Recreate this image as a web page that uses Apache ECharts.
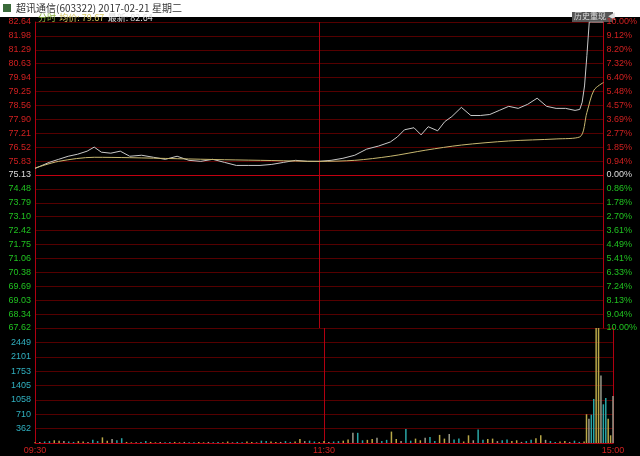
<!DOCTYPE html>
<html><head><meta charset="utf-8">
<script src="https://cdn.jsdelivr.net/npm/echarts@6/dist/echarts.min.js"></script>
<style>html,body{margin:0;padding:0;background:#000}#c{width:640px;height:456px}</style>
</head><body><div id="c"></div>
<script>
const priceLabels=['67.62','68.34','69.03','69.69','70.38','71.06','71.75','72.42','73.10','73.79','74.48','75.13','75.83','76.52','77.21','77.90','78.56','79.25','79.94','80.63','81.29','81.98','82.64'];
const pctLabels=['10.00%','9.04%','8.13%','7.24%','6.33%','5.41%','4.49%','3.61%','2.70%','1.78%','0.86%','0.00%','0.94%','1.85%','2.77%','3.69%','4.57%','5.48%','6.40%','7.32%','8.20%','9.12%','10.00%'];
const volLabels=['','362','710','1058','1405','1753','2101','2449',''];
const timeLabels={0:'09:30',120:'11:30',240:'15:00'};
const priceMin=67.62, priceMax=82.64, prevClose=75.13, volMin=14, volMax=2797;
const priceMinutes=[0,3,6,10,14,18,22,25,28,32,36,40,45,50,55,60,65,70,75,80,85,90,95,100,105,110,115,120,125,130,135,140,145,150,153,156,160,163,166,170,173,176,180,184,188,192,196,200,204,208,212,216,220,224,228,230,231,232,233,234,235,236,240];
const prices=[75.45,75.6,75.75,75.9,76.05,76.15,76.3,76.5,76.25,76.2,76.3,76.05,76.1,76.0,75.9,76.05,75.85,75.8,75.9,75.75,75.6,75.6,75.6,75.65,75.75,75.85,75.8,75.8,75.85,75.95,76.1,76.4,76.55,76.75,77.0,77.35,77.45,77.1,77.5,77.3,77.75,78.0,78.45,78.05,78.05,78.1,78.3,78.5,78.4,78.6,78.9,78.5,78.4,78.4,78.3,78.35,78.7,79.5,81.0,82.64,82.64,82.64,82.64];
const avgMinutes=[0,10,25,40,60,80,100,120,135,150,165,180,200,220,230,233,236,240];
const avgPrices=[75.47,75.8,76.0,75.98,75.93,75.88,75.84,75.8,75.85,76.05,76.35,76.6,76.8,76.9,77.0,78.2,79.3,79.67];
const volMinutesEarly=[];for(let m=0;m<=228;m+=2)volMinutesEarly.push(m);
const volMinutesLate=[229,230,231,232,233,234,235,236,237,238,239,240];
const volMinutes=volMinutesEarly.concat(volMinutesLate);
const volumes=[30,40,50,60,80,70,60,50,40,60,50,40,90,60,150,70,110,80,130,40,30,30,40,60,40,30,40,30,40,40,30,40,30,30,40,30,40,30,40,30,50,30,40,30,50,40,30,70,60,50,40,40,60,40,50,110,60,70,50,40,60,
 40,50,60,70,100,260,260,80,90,110,140,60,90,290,110,60,350,70,120,80,140,160,60,210,120,230,100,120,50,200,80,340,90,110,120,60,80,100,60,80,40,60,90,130,200,90,60,40,50,60,40,70,40,50,
 710,600,700,1080,2797,2797,1650,950,1100,600,200,1150];
const volColors=['#b8a848','#2aa6a6','#9a9a8a','#b8a848','#2aa6a6'];
const chart=echarts.init(document.getElementById('c'));
const gridLine={show:true,lineStyle:{color:'#550000',width:1}};
chart.setOption({
 backgroundColor:'#000',animation:false,
 graphic:[
  {type:'rect',shape:{x:0,y:0,width:640,height:17},style:{fill:'#fff'}},
  {type:'rect',shape:{x:3,y:4,width:8,height:8},style:{fill:'#3a6a3a'}},
  {type:'text',x:16,y:3,style:{text:'超讯通信(603322) 2017-02-21 星期二',fill:'#333',font:'10px "Noto Sans CJK SC"'}},
  {type:'text',x:38,y:12,style:{rich:{a:{fill:'#8ab040',font:'9px "Noto Sans CJK SC"'},b:{fill:'#d8c860',font:'9px "Noto Sans CJK SC"'},c:{fill:'#ddd',font:'9px "Noto Sans CJK SC"'}},text:'{a|分时} {b|均价: 79.67} {c|最新: 82.64}'}},
  {type:'rect',shape:{x:572,y:12,width:41,height:10},style:{fill:'#555'}},
  {type:'text',x:574,y:12,style:{text:'历史重现 ◀',fill:'#ddd',font:'8px "Noto Sans CJK SC"'}}
 ],
 grid:[{left:35,right:27,top:22,height:306},{left:35,right:27,top:328,height:115}],
 xAxis:[
  {gridIndex:0,type:'value',min:0,max:240,interval:120,axisLabel:{show:false},axisTick:{show:false},axisLine:{show:false},splitLine:{show:true,lineStyle:{color:'#b00010'}}},
  {gridIndex:1,type:'value',min:0,max:240,interval:120,axisTick:{show:false},axisLine:{show:true,lineStyle:{color:'#b00010'}},splitLine:{show:true,lineStyle:{color:'#b00010'}},
   axisLabel:{color:'#d02020',fontSize:9,margin:3,formatter:v=>timeLabels[v]||''}}
 ],
 yAxis:[
  {gridIndex:0,type:'value',min:priceMin,max:priceMax,show:false},
  {gridIndex:0,type:'value',min:0,max:22,interval:1,position:'left',axisLine:{show:true,lineStyle:{color:'#b00010'}},axisTick:{show:false},splitLine:gridLine,
   axisLabel:{fontSize:9,margin:4,color:(v)=>(+v)>11?'#d02020':((+v)<11?'#20c020':'#ddd'),formatter:v=>priceLabels[v]}},
  {gridIndex:0,type:'value',min:0,max:22,interval:1,position:'right',axisLine:{show:true,lineStyle:{color:'#b00010'}},axisTick:{show:false},splitLine:{show:false},
   axisLabel:{fontSize:9,margin:3,color:(v)=>(+v)>11?'#d02020':((+v)<11?'#20c020':'#ddd'),formatter:v=>pctLabels[v]}},
  {gridIndex:1,type:'value',min:volMin,max:volMax,show:false},
  {gridIndex:1,type:'value',min:0,max:8,interval:1,position:'left',axisLine:{show:true,lineStyle:{color:'#b00010'}},axisTick:{show:false},splitLine:gridLine,
   axisLabel:{fontSize:9,margin:4,color:'#30b0c0',formatter:v=>volLabels[v]}},
  {gridIndex:1,type:'value',min:0,max:8,interval:1,position:'right',axisLine:{show:true,lineStyle:{color:'#b00010'}},axisTick:{show:false},splitLine:{show:false},axisLabel:{show:false}}
 ],
 series:[
  {type:'line',xAxisIndex:0,yAxisIndex:0,data:priceMinutes.map((m,i)=>[m,prices[i]]),symbol:'none',lineStyle:{color:'#c8c8c8',width:1},
   markLine:{silent:true,symbol:'none',label:{show:false},lineStyle:{color:'#c00010',type:'solid',width:1},data:[{yAxis:prevClose}]}},
  {type:'line',xAxisIndex:0,yAxisIndex:0,data:avgMinutes.map((m,i)=>[m,avgPrices[i]]),symbol:'none',smooth:0.3,lineStyle:{color:'#c8b870',width:1}},
  {type:'bar',xAxisIndex:1,yAxisIndex:3,barWidth:1.5,data:volMinutes.map((m,i)=>[m,volumes[i]]),
   itemStyle:{color:p=>volColors[(p.dataIndex*7)%5]}}
 ]
});
</script></body></html>
